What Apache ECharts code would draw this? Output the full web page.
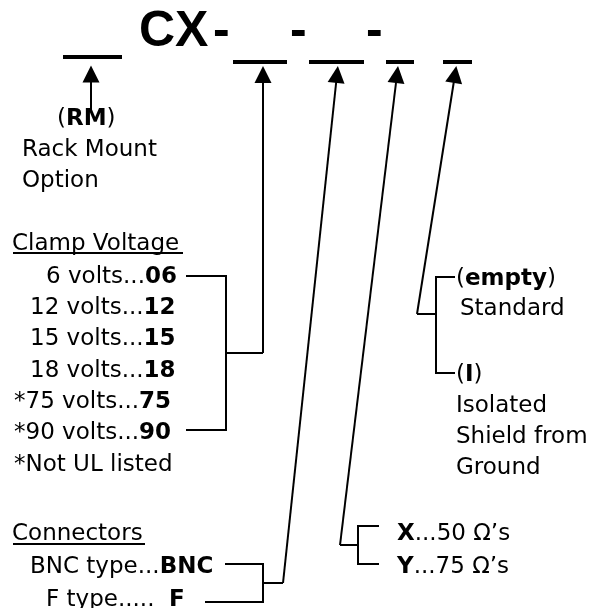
<!DOCTYPE html>
<html lang="en">
<head>
    <meta charset="UTF-8" />
    <title>CX part number</title>
    <script src="https://cdn.jsdelivr.net/npm/echarts@6/dist/echarts.min.js"></script>
    <style>
        body { margin: 0; background: #fff; }
        #main { width: 605px; height: 608px; }
    </style>
</head>
<body>
    <div id="main"></div>
    <script>
        // diagram units = pixels of the 605 x 608 sheet, y grows downwards

        // the big part number: text, left x, middle y
        const titleParts = [
            ['CX', 139, 32],
            ['-', 213, 32],
            ['-', 290, 32],
            ['-', 366, 32]
        ];

        // blank slots under the part number: x1, x2, y
        const blanks = [
            [63, 122, 57],
            [233, 287, 62],
            [309, 364, 62],
            [386, 414, 62],
            [443, 472, 62]
        ];

        // arrows: tail point, then centre of the head
        const arrows = [
            [[91, 110], [91, 74]],
            [[263, 353], [263, 74.5]],
            [[283, 583], [337, 74.5]],
            [[340, 545], [397, 74.5]],
            [[417, 314], [455, 74.5]]
        ];

        // brackets and header underlines
        const connectors = [
            [[186, 276], [226, 276], [226, 430], [186, 430]],
            [[226, 353], [263, 353]],
            [[225, 564], [263, 564], [263, 602], [205, 602]],
            [[263, 583], [283, 583]],
            [[379, 526], [358, 526], [358, 564], [379, 564]],
            [[358, 545], [340, 545]],
            [[455, 277], [436, 277], [436, 373], [455, 373]],
            [[436, 314], [417, 314]],
            [[13, 253], [183, 253]],
            [[13, 544], [145, 544]]
        ];

        // option texts: text, left x, middle y ({b|..} = bold)
        const notes = [
            ['({b|RM})', 57, 119],
            ['Rack Mount', 22, 150],
            ['Option', 22, 181],
            ['Clamp Voltage', 12, 244],
            ['6 volts...{b|06}', 46, 277],
            ['12 volts...{b|12}', 30, 308],
            ['15 volts...{b|15}', 30, 339],
            ['18 volts...{b|18}', 30, 371],
            ['*75 volts...{b|75}', 14, 402],
            ['*90 volts...{b|90}', 14, 433],
            ['*Not UL listed', 14, 465],
            ['Connectors', 12, 534],
            ['BNC type...{b|BNC}', 30, 567],
            ['F type.....  {b|F}', 46, 600],
            ['({b|empty})', 456, 279],
            ['Standard', 460, 309],
            ['({b|I})', 456, 375],
            ['Isolated', 456, 406],
            ['Shield from', 456, 437],
            ['Ground', 456, 468],
            ['{b|X}...50 \u03A9\u2019s', 397, 534],
            ['{b|Y}...75 \u03A9\u2019s', 397, 567]
        ];

        var chartDom = document.getElementById('main');
        var myChart = echarts.init(chartDom);

        const font = 'DejaVu Sans';

        function textPoints(list) {
            return list.map(function (t) {
                return { value: [t[1], t[2]], name: t[0] };
            });
        }

        var option = {
            animation: false,
            grid: { left: 0, right: 0, top: 0, bottom: 0 },
            xAxis: { type: 'value', min: 0, max: 605, show: false },
            yAxis: { type: 'value', min: 0, max: 608, inverse: true, show: false },
            series: [
                {
                    type: 'lines',
                    coordinateSystem: 'cartesian2d',
                    data: blanks.map(b => ({ coords: [[b[0], b[2]], [b[1], b[2]]] })),
                    lineStyle: { color: '#000', width: 4, opacity: 1, cap: 'butt' },
                    silent: true
                },
                {
                    type: 'lines',
                    coordinateSystem: 'cartesian2d',
                    polyline: true,
                    data: connectors.map(c => ({ coords: c })),
                    lineStyle: { color: '#000', width: 2, opacity: 1, join: 'miter' },
                    silent: true
                },
                {
                    type: 'lines',
                    coordinateSystem: 'cartesian2d',
                    // arrow head, 13 wide and 17 tall
                    symbol: ['none', 'path://M6.5,0 L13,17 L0,17 Z'],
                    symbolSize: 17,
                    symbolKeepAspect: true,
                    data: arrows.map(a => ({ coords: a })),
                    lineStyle: { color: '#000', width: 2, opacity: 1 },
                    silent: true
                },
                {
                    type: 'scatter',
                    symbolSize: 1,
                    itemStyle: { color: 'rgba(0,0,0,0)', opacity: 1 },
                    data: textPoints(titleParts),
                    label: {
                        show: true,
                        position: 'inside',
                        align: 'left',
                        verticalAlign: 'middle',
                        formatter: '{b}',
                        fontFamily: 'Liberation Sans',
                        fontWeight: 'bold',
                        fontSize: 50,
                        color: '#000',
                        opacity: 1
                    },
                    silent: true
                },
                {
                    type: 'scatter',
                    symbolSize: 1,
                    itemStyle: { color: 'rgba(0,0,0,0)', opacity: 1 },
                    data: textPoints(notes),
                    label: {
                        show: true,
                        position: 'inside',
                        align: 'left',
                        verticalAlign: 'middle',
                        formatter: function (p) { return p.name; },
                        fontFamily: font,
                        fontSize: 23,
                        color: '#000',
                        opacity: 1,
                        rich: {
                            b: { fontFamily: font, fontSize: 23, fontWeight: 'bold', color: '#000' }
                        }
                    },
                    silent: true
                }
            ]
        };

        myChart.setOption(option);
    </script>
</body>
</html>
